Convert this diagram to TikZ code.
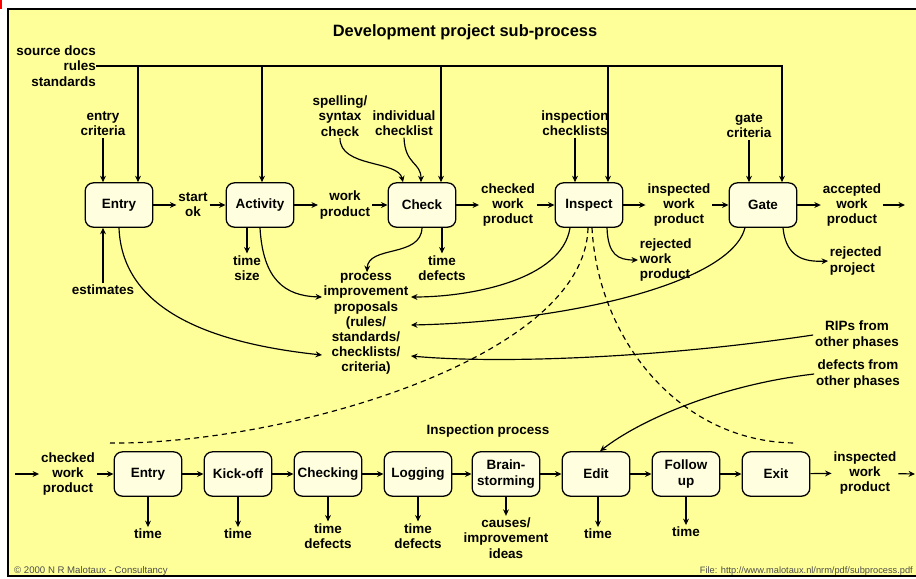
\documentclass[tikz,border=0pt]{standalone}
\usepackage{fontspec}
\setmainfont{Liberation Sans}
\usetikzlibrary{arrows.meta}
\definecolor{bgy}{HTML}{FFFF99}
\definecolor{boxf}{HTML}{FFFFE0}
\newcommand{\mylabfont}{\fontsize{11.5}{13}\selectfont\bfseries}
\newcommand{\mytitlefont}{\fontsize{14}{16}\selectfont\bfseries}
\newcommand{\myfootfont}{\fontsize{8.2}{9}\selectfont}
\newcommand{\myfilefont}{\fontsize{7.9}{9}\selectfont}
\begin{document}
\begin{tikzpicture}[x=0.03cm,y=-0.03cm,
  lab/.style={align=center, inner sep=1.5pt, font=\mylabfont},
  bx/.style={draw, line width=1.1pt, rounded corners=7pt, fill=boxf,
    minimum width=2.03cm, minimum height=1.33cm, align=center,
    inner sep=1pt, font=\mylabfont},
  arr/.style={line width=1pt, -{Stealth[length=5.5pt,width=5pt]}},
  ln/.style={line width=1pt},
  dsh/.style={line width=1pt, dash pattern=on 4.5pt off 3.5pt},
  foot/.style={inner sep=0pt, font=\myfootfont, text=black!70}]
\useasboundingbox (0,0) rectangle (916,578);
\fill[white] (0,0) rectangle (916,578);
\begin{scope}
  \clip (0,0) rectangle (916,578);
  \draw[line width=1.6pt, fill=bgy] (8,9) rectangle (930,576);
\end{scope}
\draw[red, line width=1.2pt] (1,0) -- (1,9);

% ---------- titles ----------
\node[font=\mytitlefont, inner sep=0pt] (title) at (465,32) {Development project sub-process};
\node[lab, inner sep=0pt] (ititle) at (488,431) {Inspection process};

% ---------- top row boxes ----------
\node[bx] (entry) at (119,205) {Entry};
\node[bx] (act)   at (260,205) {Activity};
\node[bx] (chk)   at (422,205) {Check};
\node[bx] (insp)  at (589,205) {Inspect};
\node[bx] (gate)  at (763,205) {Gate};

% ---------- top labels ----------
\node[lab, align=right, anchor=east, inner sep=0pt] (src) at (96,66) {source docs\\rules\\standards};
\node[lab] (ecrit) at (103,124) {entry\\criteria};
\node[lab] (spell) at (340,116) {spelling/\\syntax\\check};
\node[lab] (indiv) at (404,123) {individual\\checklist};
\node[lab] (ichk)  at (575,123) {inspection\\checklists};
\node[lab] (gcrit) at (749,126) {gate\\criteria};

\node[lab] (startok) at (193,205) {start\\ok};
\node[lab] (wp)      at (345,205) {work\\product};
\node[lab] (cwp)     at (508,205) {checked\\work\\product};
\node[lab] (iwp)     at (679,205) {inspected\\work\\product};
\node[lab] (awp)     at (852,205) {accepted\\work\\product};

\node[lab] (tsize) at (247,268) {time\\size};
\node[lab] (tdef)  at (442,268) {time\\defects};
\node[lab] (est)   at (103,290) {estimates};
\node[lab] (pip)   at (366,324) {process\\improvement\\proposals\\(rules/\\standards/\\checklists/\\criteria)};
\node[lab, align=left, anchor=west] (rwp) at (638,260) {rejected\\work\\product};
\node[lab, align=left, anchor=west] (rproj) at (828,261) {rejected\\project};
\node[lab] (rips) at (857,335) {RIPs from\\other phases};
\node[lab] (dfo)  at (858,374) {defects from\\other phases};

% ---------- top connectors ----------
\coordinate (te) at (138,66);
\coordinate (ta) at (262,66);
\coordinate (tc) at (441,66);
\coordinate (ti) at (608,66);
\coordinate (tg) at (782,66);
\draw[arr] (src.east) -- (tg) -- (tg |- gate.north);
\draw[arr] (te) -- (te |- entry.north);
\draw[arr] (ta) -- (ta |- act.north);
\draw[arr] (tc) -- (tc |- chk.north);
\draw[arr] (ti) -- (ti |- insp.north);

\draw[arr] (ecrit.south) -- (ecrit.south |- entry.north);
\draw[arr] (ichk.south) -- (ichk.south |- insp.north);
\draw[arr] (gcrit.south) -- (gcrit.south |- gate.north);
\draw[arr] (spell.south) .. controls (340,168) and (398,160) .. (403,0 |- chk.north);
\draw[arr] (indiv.south) .. controls (405,165) and (421,162) .. (421,0 |- chk.north);

\draw[arr] (entry) -- (startok);
\draw[arr] (startok) -- (act);
\draw[arr] (act) -- (wp);
\draw[arr] (wp) -- (chk);
\draw[arr] (chk) -- (cwp);
\draw[arr] (cwp) -- (insp);
\draw[arr] (insp) -- (iwp);
\draw[arr] (iwp) -- (gate);
\draw[arr] (gate) -- (awp);
\coordinate (aend) at (905,205);
\draw[arr] (awp) -- (aend);

\draw[arr] (act.south -| tsize) -- (tsize.north);
\draw[arr] (chk.south -| tdef) -- (tdef.north);
\draw[arr] (est.north) -- (est.north |- entry.south);

% ---------- curves into process improvement proposals ----------
\coordinate (pA) at (322,297);
\coordinate (pB) at (322,355);
\coordinate (pC) at (367,272);
\coordinate (pD) at (411,297);
\coordinate (pE) at (411,325);
\coordinate (pF) at (411,356);
\draw[arr] (entry.south) .. controls (122,305) and (200,342) .. (pB);
\draw[arr] (act.south) .. controls (263,280) and (285,296) .. (pA);
\draw[arr] (chk.south) .. controls (421,258) and (368,245) .. (pC);
\draw[arr] (570,0 |- insp.south) .. controls (562,280) and (470,297) .. (pD);
\draw[arr] (745,0 |- gate.south) .. controls (730,285) and (560,322) .. (pE);
\draw[arr] (rips.west) .. controls (660,358) and (500,364) .. (pF);

\draw[arr] (607,0 |- insp.south) .. controls (608,255) and (618,260) .. (rwp.west);
\draw[arr] (783,0 |- gate.south) .. controls (786,258) and (805,262) .. (rproj.west);

% ---------- bottom row ----------
\node[bx] (b1) at (148,474) {Entry};
\node[bx] (b2) at (238,474) {Kick-off};
\node[bx] (b3) at (328,474) {Checking};
\node[bx] (b4) at (418,474) {Logging};
\node[bx] (b5) at (506,474) {Brain-\\storming};
\node[bx] (b6) at (596,474) {Edit};
\node[bx] (b7) at (686,474) {Follow\\up};
\node[bx] (b8) at (776,474) {Exit};

\node[lab] (cwp2) at (68,474) {checked\\work\\product};
\node[lab] (iwp2) at (865,473) {inspected\\work\\product};
\coordinate (lstart) at (15,474);
\coordinate (rend) at (915,474);
\draw[arr] (lstart) -- (cwp2);
\draw[arr] (cwp2) -- (b1);
\draw[arr] (b1) -- (b2);
\draw[arr] (b2) -- (b3);
\draw[arr] (b3) -- (b4);
\draw[arr] (b4) -- (b5);
\draw[arr] (b5) -- (b6);
\draw[arr] (b6) -- (b7);
\draw[arr] (b7) -- (b8);
\draw[arr] (b8) -- (iwp2);
\draw[arr] (iwp2) -- (rend);

\node[lab] (tb1) at (148,534) {time};
\node[lab] (tb2) at (238,534) {time};
\node[lab] (tb3) at (328,536) {time\\defects};
\node[lab] (tb4) at (418,536) {time\\defects};
\node[lab] (tb5) at (506,538) {causes/\\improvement\\ideas};
\node[lab] (tb6) at (598,534) {time};
\node[lab] (tb7) at (686,532) {time};
\draw[arr] (b1.south -| tb1) -- (tb1.north);
\draw[arr] (b2.south -| tb2) -- (tb2.north);
\draw[arr] (b3.south -| tb3) -- (tb3.north);
\draw[arr] (b4.south -| tb4) -- (tb4.north);
\draw[arr] (b5.south -| tb5) -- (tb5.north);
\draw[arr] (b6.south -| tb6) -- (tb6.north);
\draw[arr] (b7.south -| tb7) -- (tb7.north);

% defects from other phases -> Edit
\draw[arr] (dfo.west) .. controls (720,385) and (640,420) .. (600,0 |- b6.north);

% dashed zoom lines from Inspect to inspection process
\coordinate (dl) at (110,443);
\coordinate (dr) at (795,443);
\draw[dsh] (588,0 |- insp.south) .. controls (585,360) and (280,445) .. (dl);
\draw[dsh] (592,0 |- insp.south) .. controls (598,340) and (680,442) .. (dr);

% ---------- footer ----------
\node[foot, anchor=west] (cpy) at (14,571) {© 2000 N R Malotaux - Consultancy};
\node[foot, font=\myfilefont, anchor=east] (file) at (913,571) {File: http://www.malotaux.nl/nrm/pdf/subprocess.pdf};
\end{tikzpicture}
\end{document}
